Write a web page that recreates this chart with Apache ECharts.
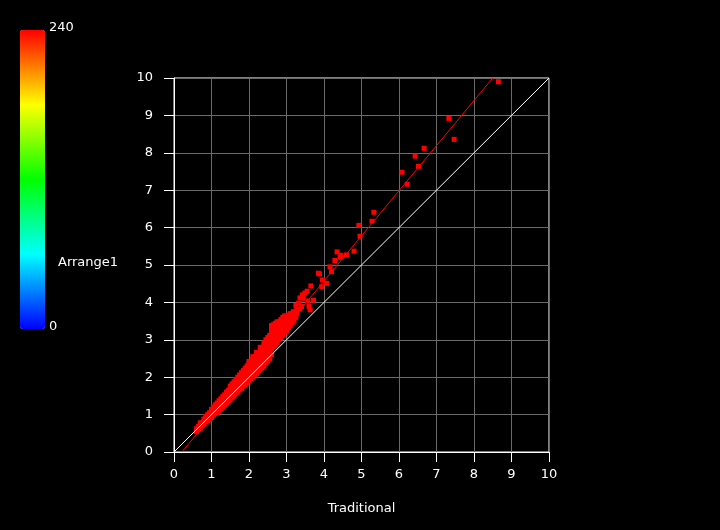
<!DOCTYPE html>
<html style="height: 100%">
<head>
<meta charset="utf-8">
<script src="https://cdn.jsdelivr.net/npm/echarts@6/dist/echarts.min.js"></script>
</head>
<body style="height: 100%; margin: 0; background: #000">
<div id="container" style="width: 720px; height: 530px"></div>
<script type="text/javascript">
// dense band, read column by column: [x, [y values]]
var bandColumns = [
    [0.60, [0.55, 0.62]],
    [0.65, [0.60, 0.68]],
    [0.70, [0.64, 0.72, 0.78]],
    [0.75, [0.70, 0.78]],
    [0.80, [0.74, 0.82, 0.88]],
    [0.85, [0.80, 0.88, 0.95]],
    [0.90, [0.84, 0.92, 1.00]],
    [0.95, [0.88, 0.97, 1.05]],
    [1.00, [0.92, 1.00, 1.08, 1.14]],
    [1.05, [0.98, 1.06, 1.14, 1.20]],
    [1.10, [1.03, 1.12, 1.20, 1.26]],
    [1.15, [1.06, 1.16, 1.24, 1.31]],
    [1.20, [1.10, 1.20, 1.28, 1.37]],
    [1.25, [1.16, 1.27, 1.35, 1.42]],
    [1.30, [1.20, 1.30, 1.39, 1.48]],
    [1.35, [1.26, 1.36, 1.45, 1.53]],
    [1.40, [1.31, 1.41, 1.50, 1.60]],
    [1.45, [1.36, 1.47, 1.56, 1.65]],
    [1.50, [1.40, 1.51, 1.60, 1.70, 1.76]],
    [1.55, [1.45, 1.57, 1.66, 1.76, 1.82]],
    [1.60, [1.50, 1.62, 1.71, 1.80, 1.88]],
    [1.65, [1.56, 1.67, 1.77, 1.86, 1.94]],
    [1.70, [1.60, 1.72, 1.82, 1.92, 2.00]],
    [1.75, [1.66, 1.78, 1.88, 1.97, 2.06]],
    [1.80, [1.70, 1.82, 1.93, 2.03, 2.12]],
    [1.85, [1.76, 1.88, 1.98, 2.08, 2.18]],
    [1.90, [1.80, 1.93, 2.04, 2.14, 2.24]],
    [1.95, [1.86, 1.98, 2.09, 2.20, 2.30]],
    [2.00, [1.91, 2.03, 2.14, 2.25, 2.36, 2.42]],
    [2.05, [1.96, 2.09, 2.20, 2.31, 2.42]],
    [2.10, [2.00, 2.13, 2.25, 2.36, 2.48, 2.55]],
    [2.15, [2.06, 2.19, 2.31, 2.42, 2.54]],
    [2.20, [2.10, 2.24, 2.36, 2.48, 2.60, 2.66]],
    [2.25, [2.16, 2.30, 2.42, 2.54, 2.66]],
    [2.30, [2.20, 2.35, 2.48, 2.60, 2.72, 2.80]],
    [2.35, [2.26, 2.40, 2.53, 2.66, 2.78]],
    [2.40, [2.30, 2.46, 2.58, 2.72, 2.84, 2.92]],
    [2.45, [2.38, 2.52, 2.65, 2.78, 2.90, 3.00]],
    [2.50, [2.44, 2.58, 2.70, 2.82, 2.94, 3.06]],
    [2.55, [2.50, 2.64, 2.76, 2.88, 3.00, 3.12]],
    [2.60, [2.60, 2.76, 2.88, 3.00, 3.14, 3.26, 3.38]],
    [2.65, [2.82, 2.94, 3.06, 3.18, 3.30, 3.40]],
    [2.70, [2.86, 2.98, 3.10, 3.22, 3.34, 3.44]],
    [2.75, [2.92, 3.04, 3.16, 3.28, 3.40, 3.48]],
    [2.80, [3.00, 3.12, 3.24, 3.36, 3.48]],
    [2.85, [3.06, 3.18, 3.30, 3.42, 3.54]],
    [2.90, [3.12, 3.24, 3.36, 3.48, 3.60]],
    [2.95, [3.20, 3.32, 3.44, 3.56, 3.64]],
    [3.00, [3.24, 3.36, 3.48, 3.60]],
    [3.05, [3.32, 3.44, 3.56, 3.66]],
    [3.10, [3.38, 3.50, 3.62, 3.70]],
    [3.15, [3.46, 3.58, 3.68]],
    [3.20, [3.52, 3.64, 3.74]],
    [3.25, [3.60, 3.72]]
];

// scattered points above the band
var outlierPoints = [
    [3.18, 3.75], [3.22, 3.66], [3.25, 3.92], [3.27, 3.80], [3.28, 3.70],
    [3.32, 3.98], [3.35, 3.82], [3.36, 4.12], [3.40, 3.89], [3.42, 4.20],
    [3.45, 4.11], [3.49, 4.25], [3.55, 4.30], [3.57, 4.04], [3.60, 3.89],
    [3.63, 3.80], [3.65, 4.44], [3.72, 4.06], [3.85, 4.78], [3.88, 4.76],
    [3.94, 4.42], [3.96, 4.60], [4.07, 4.51], [4.16, 4.95], [4.20, 4.82],
    [4.29, 5.12], [4.35, 5.35], [4.43, 5.21], [4.45, 5.26], [4.60, 5.27],
    [4.80, 5.37], [4.93, 6.06], [4.96, 5.77], [5.28, 6.17], [5.33, 6.41],
    [6.08, 7.48], [6.22, 7.16], [6.43, 7.91], [6.52, 7.64], [6.67, 8.12],
    [7.33, 8.92], [7.47, 8.36], [8.65, 9.90]
];

var fitLine = [[0.21, 0], [8.5, 10]];
var diagonal = [[0, 0], [10, 10]];

var colorValue = 240;
var colorMin = 0;
var colorMax = 240;
var colorName = 'Arrange1';
var xName = 'Traditional';

var points = [];
bandColumns.forEach(function (col) {
    col[1].forEach(function (y) {
        points.push([col[0], y, colorValue]);
    });
});
outlierPoints.forEach(function (p) {
    points.push([p[0], p[1], colorValue]);
});

var dom = document.getElementById('container');
var myChart = echarts.init(dom);

var axisCommon = {
    type: 'value',
    min: 0,
    max: 10,
    interval: 1,
    axisLine: { lineStyle: { color: '#fff', width: 1 } },
    axisTick: { length: 10, lineStyle: { color: '#fff' } },
    splitLine: { lineStyle: { color: '#6a6a6a' } },
    axisLabel: { color: '#fff', fontSize: 13, fontFamily: 'DejaVu Sans' }
};

myChart.setOption({
    backgroundColor: '#000',
    animation: false,
    grid: {
        left: 174, top: 78, width: 375, height: 374,
        show: true, borderColor: '#fff', borderWidth: 1, backgroundColor: 'transparent'
    },
    xAxis: Object.assign({}, axisCommon, {
        name: xName,
        nameLocation: 'middle',
        nameGap: 50,
        nameTextStyle: { color: '#fff', fontSize: 13, fontFamily: 'DejaVu Sans' },
        axisLabel: Object.assign({}, axisCommon.axisLabel, { margin: 16 })
    }),
    yAxis: Object.assign({}, axisCommon, {
        axisLabel: Object.assign({}, axisCommon.axisLabel, { margin: 21 })
    }),
    visualMap: {
        type: 'continuous',
        min: colorMin,
        max: colorMax,
        dimension: 2,
        seriesIndex: 0,
        left: 5,
        top: 15,
        itemWidth: 25,
        itemHeight: 299,
        calculable: false,
        text: null,
        showLabel: false,
        inRange: { color: ['#0000ff', '#00ffff', '#00ff00', '#ffff00', '#ff0000'] }
    },
    graphic: [
        { type: 'text', left: 49, top: 21, style: { text: String(colorMax), fill: '#fff', fontSize: 13, fontFamily: 'DejaVu Sans' } },
        { type: 'text', left: 49, top: 320, style: { text: String(colorMin), fill: '#fff', fontSize: 13, fontFamily: 'DejaVu Sans' } },
        { type: 'text', left: 58, top: 256, style: { text: colorName, fill: '#fff', fontSize: 13, fontFamily: 'DejaVu Sans' } }
    ],
    series: [
        {
            type: 'scatter',
            symbol: 'rect',
            symbolSize: 5,
            itemStyle: { opacity: 1 },
            data: points,
            z: 2
        },
        {
            type: 'line',
            data: fitLine,
            symbol: 'none',
            lineStyle: { color: '#ff0000', width: 1 },
            z: 3
        },
        {
            type: 'line',
            data: diagonal,
            symbol: 'none',
            lineStyle: { color: '#ffffff', width: 1 },
            z: 4
        }
    ]
});
</script>
</body>
</html>
